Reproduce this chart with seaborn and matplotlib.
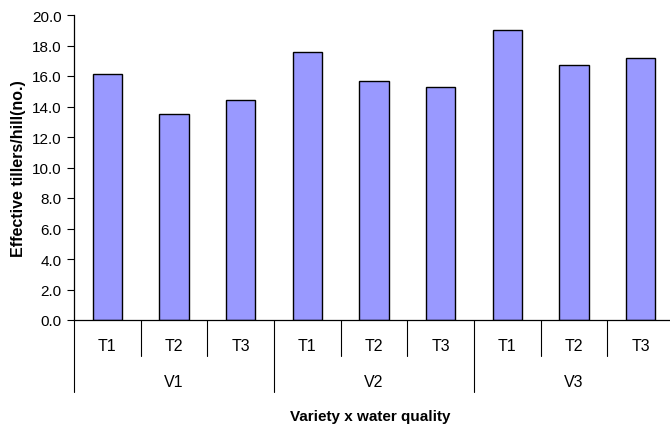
import seaborn as sns
import matplotlib.pyplot as plt
import matplotlib.transforms as mtransforms
import pandas as pd

# data
varieties = ['V1', 'V2', 'V3']
treatments = ['T1', 'T2', 'T3']
tillers = [16.1, 13.5, 14.4, 17.6, 15.7, 15.3, 19.0, 16.7, 17.2]

df = pd.DataFrame({
    'key': [v + t for v in varieties for t in treatments],
    'treatment': [t for v in varieties for t in treatments],
    'tillers': tillers,
})

sns.set_style('white')
plt.rcParams['font.family'] = ['Liberation Sans', 'DejaVu Sans']
plt.rcParams['text.color'] = 'black'
plt.rcParams['axes.labelcolor'] = 'black'
plt.rcParams['ytick.color'] = 'black'

fig = plt.figure(figsize=(6.7, 4.27), dpi=100)
ax = fig.add_axes([74 / 670, 106 / 427, 600 / 670, 305 / 427])

sns.barplot(data=df, x='key', y='tillers', color='#9999FF', saturation=1,
            width=0.44, edgecolor='black', linewidth=1.0, ax=ax)

ax.set_xlim(-0.5, len(df) - 0.5)
ax.set_ylim(0, 20)
ax.set_yticks([i * 2.0 for i in range(11)])
ax.set_yticklabels([f'{i * 2.0:.1f}' for i in range(11)], fontsize=11)
ax.tick_params(axis='y', left=True, length=5, width=0.8, color='black',
               labelcolor='black', pad=4)

ax.set_xticks([])

for s in ['top', 'right']:
    ax.spines[s].set_visible(False)
for s in ['left', 'bottom']:
    ax.spines[s].set_color('black')
    ax.spines[s].set_linewidth(0.9)

trans = mtransforms.blended_transform_factory(ax.transData, ax.transAxes)

# first level labels (treatments)
for i, t in enumerate(df['treatment']):
    ax.text(i, -0.085, t, transform=trans, ha='center', va='center',
            fontsize=11.5, color='black')

# category divider lines below the axis
for i in range(len(df) + 1):
    pos = i - 0.5
    depth = -0.236 if i % 3 == 0 else -0.118
    ax.plot([pos, pos], [0, depth], color='black', lw=0.8,
            transform=trans, clip_on=False)

# second level labels (varieties)
for j, v in enumerate(varieties):
    ax.text(j * 3 + 1, -0.203, v, transform=trans, ha='center', va='center',
            fontsize=11.5, color='black')

ax.text((370 - 74) / 600, -0.315, 'Variety x water quality',
        transform=ax.transAxes, ha='center', va='center',
        fontsize=11, fontweight='bold', color='black')
ax.set_xlabel('')
ax.set_ylabel('Effective tillers/hill(no.)', fontsize=11.5, fontweight='bold',
              labelpad=4, color='black')

plt.savefig('out.png', dpi=100)
